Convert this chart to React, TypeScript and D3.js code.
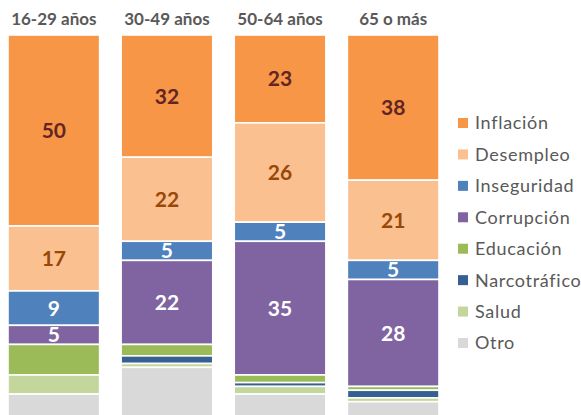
import React from 'react';
import * as d3 from 'd3';

// age groups (columns)
const groups = ['16-29 años', '30-49 años', '50-64 años', '65 o más'];

// issue categories, stacked top to bottom
const issues = ['Inflación', 'Desempleo', 'Inseguridad', 'Corrupción', 'Educación', 'Narcotráfico', 'Salud', 'Otro'];

// percentages per age group, one array per issue
const inflacion = [50, 32, 23, 38];
const desempleo = [17, 22, 26, 21];
const inseguridad = [9, 5, 5, 5];
const corrupcion = [5, 22, 35, 28];
const educacion = [8, 3, 2, 1];
const narcotrafico = [0, 2, 1, 2];
const salud = [5, 1, 2, 1];
const otro = [6, 13, 6, 4];

const colors = ['#F79646', '#FAC090', '#4F81BD', '#8064A2', '#9BBB59', '#366092', '#C3D69B', '#D9D9D9'];
const labelColors: Record<string, string> = {
  'Inflación': '#632523',
  'Desempleo': '#984807',
  'Inseguridad': '#ffffff',
  'Corrupción': '#ffffff',
};

const W = 581;
const H = 415;
const FONT = 'Lato, "Open Sans", sans-serif';

const App: React.FC = () => {
  const series = [inflacion, desempleo, inseguridad, corrupcion, educacion, narcotrafico, salud, otro];
  const rows = groups.map((g, i) => {
    const row: Record<string, any> = { group: g };
    issues.forEach((k, j) => { row[k] = series[j][i]; });
    return row;
  });

  const stacked = d3.stack<Record<string, any>>().keys(issues)(rows);

  const x = d3.scaleBand<string>().domain(groups).range([8, 439]).paddingInner(0.19).paddingOuter(0);
  const y = d3.scaleLinear().domain([0, 100]).range([35, 417]);
  const color = d3.scaleOrdinal<string, string>().domain(issues).range(colors);
  const legendY = d3.scalePoint<string>().domain(issues).range([123, 343]);

  return (
    <div style={{ position: 'absolute', left: 0, top: 0 }}>
      <svg width={W} height={H} style={{ display: 'block', background: '#fff' }}>
        {/* column headers */}
        {groups.map(g => (
          <text key={g} x={x(g)! + x.bandwidth() / 2} y={25} textAnchor="middle"
            fontFamily={FONT} fontWeight={700} fontSize={17} fill="#595959">{g}</text>
        ))}

        {/* stacked segments */}
        {stacked.map(layer => (
          <g key={layer.key} fill={color(layer.key)}>
            {layer.map((d, i) => {
              const v = d[1] - d[0];
              if (v <= 0) return null;
              return (
                <rect key={i} x={x(groups[i])} y={y(d[0])} width={x.bandwidth()}
                  height={y(d[1]) - y(d[0])} stroke="#fff" strokeWidth={1.6} />
              );
            })}
          </g>
        ))}

        {/* value labels */}
        {stacked.map(layer => labelColors[layer.key] ? (
          <g key={'l' + layer.key}>
            {layer.map((d, i) => {
              const v = d[1] - d[0];
              if (v < 5) return null;
              return (
                <text key={i} x={x(groups[i])! + x.bandwidth() / 2} y={(y(d[0]) + y(d[1])) / 2}
                  dy="0.36em" textAnchor="middle" fontFamily={FONT} fontWeight={700} fontSize={21}
                  fill={labelColors[layer.key]}>{v}</text>
              );
            })}
          </g>
        ) : null)}

        {/* legend */}
        {issues.map(k => (
          <g key={'lg' + k} transform={`translate(458,${legendY(k)})`}>
            <rect x={0} y={-5} width={10} height={10} fill={color(k)} />
            <text x={17} y={0} dy="0.36em" fontFamily={FONT} fontSize={18} letterSpacing={0.7}
              fill="#595959">{k}</text>
          </g>
        ))}
      </svg>
    </div>
  );
};

export default App;
